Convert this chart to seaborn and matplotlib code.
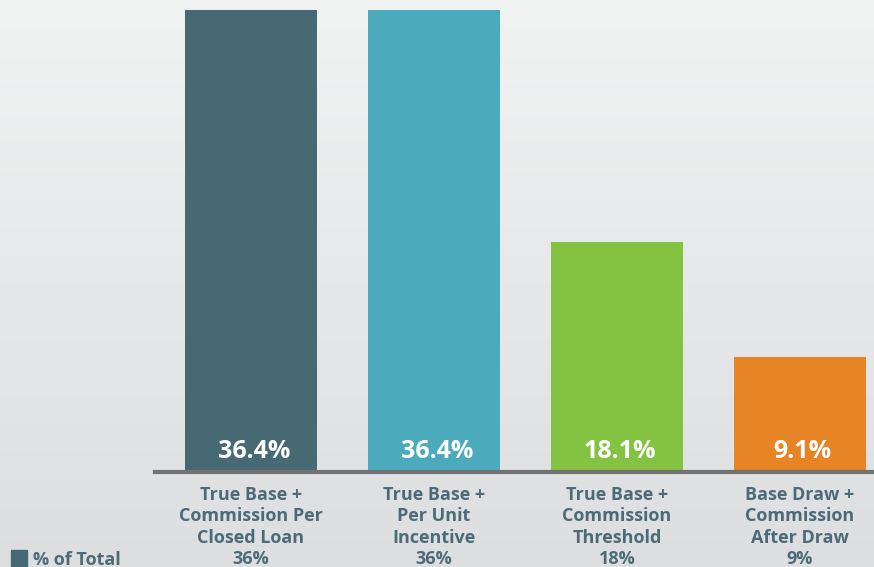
import numpy as np
import pandas as pd
import matplotlib
matplotlib.use("Agg")
import matplotlib.pyplot as plt
from matplotlib.patches import Patch
import seaborn as sns

# data
categories = ["True Base +\nCommission Per\nClosed Loan",
              "True Base +\nPer Unit\nIncentive",
              "True Base +\nCommission\nThreshold",
              "Base Draw +\nCommission\nAfter Draw"]
values = [36.4, 36.4, 18.1, 9.1]
colors = ["#466973", "#4babbc", "#84c341", "#e68426"]
text_color = "#4a6b77"

sns.set_theme(style="white")
plt.rcParams["font.family"] = ["Open Sans", "DejaVu Sans"]

df = pd.DataFrame({"cat": categories, "pct": values})

fig = plt.figure(figsize=(8.74, 5.67), dpi=100)

# background gradient
bg = fig.add_axes([0, 0, 1, 1], zorder=-10)
grad = np.linspace(0, 1, 256).reshape(-1, 1)
cmap = matplotlib.colors.LinearSegmentedColormap.from_list("bg", ["#f1f2f2", "#dddee0"])
bg.imshow(grad, aspect="auto", cmap=cmap, extent=[0, 1, 0, 1], origin="upper")
bg.set_axis_off()

W, H = 874, 567
px = 1 / 183.0
left_px, right_px = 155, 891.5
base_px = 472
ax = fig.add_axes([left_px / W, (H - base_px) / H, (right_px - left_px) / W, base_px / H])
ax.patch.set_alpha(0)

sns.barplot(data=df, x="cat", y="pct", hue="cat", palette=colors, width=132 / 183,
            legend=False, ax=ax, saturation=1, linewidth=0)

ax.set_xlim(-0.5 - 4.5 * px, 3.5)
ax.set_ylim(0, 36.4 * base_px / 462)

for i, v in enumerate(values):
    ax.text(i + 0.015, 1.65, f"{v}%", ha="center", va="center", color="white",
            fontsize=18, fontweight="bold")

ticklabels = [f"{c}\n{round(v)}%" for c, v in zip(categories, values)]
ax.set_xticks(range(len(categories)))
ax.set_xticklabels(ticklabels, fontsize=13, fontweight="bold", color=text_color,
                   linespacing=1.24, va="top")
ax.tick_params(axis="x", length=0, pad=10)
ax.set_yticks([])
ax.set_xlabel("")
ax.set_ylabel("")

for s in ["top", "right", "left"]:
    ax.spines[s].set_visible(False)
ax.spines["bottom"].set_color("#727273")
ax.spines["bottom"].set_linewidth(3)
ax.spines["bottom"].set_zorder(5)

fig.legend(handles=[Patch(color=colors[0])], labels=["% of Total"],
           loc="lower left", bbox_to_anchor=(-0.006, -0.033), frameon=False,
           handlelength=0.9, handleheight=1.2, handletextpad=0.3,
           prop={"size": 13, "weight": "bold"}, labelcolor=text_color)

fig.savefig("out.png", dpi=100)
